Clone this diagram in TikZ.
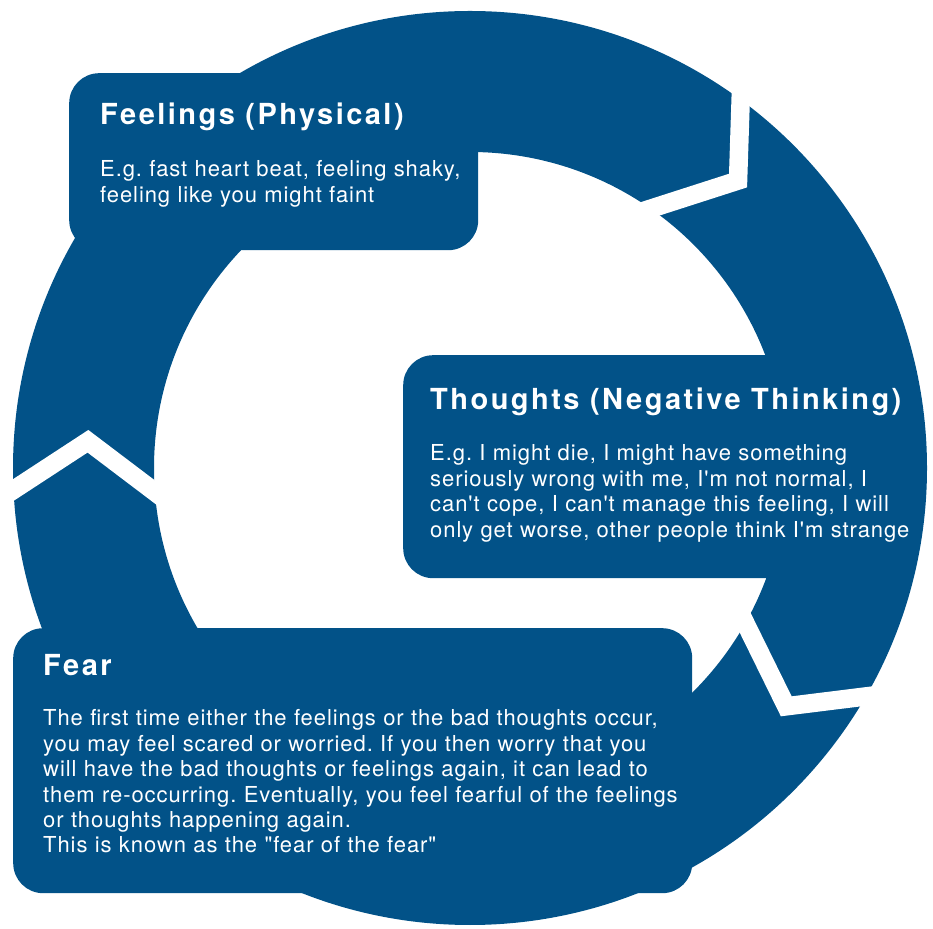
\documentclass[tikz,border=0pt]{standalone}
\usepackage{fontspec}
\usepackage{tikz}
\newfontfamily\boxfont[Ligatures=TeXOff,LetterSpace=4.2]{TeX Gyre Heros}
\newfontfamily\headfont[Ligatures=TeXOff,LetterSpace=8.5]{TeX Gyre Heros}
\definecolor{cycleblue}{RGB}{2,82,136}
\frenchspacing

\begin{document}
\begin{tikzpicture}[x=1pt,y=1pt,
    box/.style={fill=cycleblue,rounded corners=30pt,inner sep=0pt,anchor=north west},
    head/.style={text=white,anchor=base west,inner sep=0pt,font=\fontsize{29}{32}\selectfont\headfont\bfseries},
    body/.style={text=white,anchor=base west,inner sep=0pt,text width=700pt,align=left,font=\fontsize{22}{25.4}\selectfont\boxfont},
    gapline/.style={draw=white,line width=18.5pt}]
  \useasboundingbox (0,0) rectangle (933,928);
  \coordinate (ctr) at (470,460);
  \fill[cycleblue,even odd rule] (ctr) circle[radius=457] circle[radius=316];
  \foreach \ang/\rad/\dout/\din in {47/393/83/53,176/383/72/62,-37/396/92/48}
    \draw[gapline,shift={(ctr)},rotate=\ang] (\rad+95,\dout) -- (\rad,0) -- (\rad-95,\din);
  \node[box,minimum width=409,minimum height=177] (feelbox) at (69,855) {};
  \node[box,minimum width=502,minimum height=223] (thinkbox) at (403,573) {};
  \node[box,minimum width=679,minimum height=265] (fearbox) at (13,300) {};
  \node[head] (feelhead) at (100,803) {Feelings (Physical)};
  \node[body] (feeltext) at (100,751) {E.g. fast heart beat, feeling shaky,\\
    feeling like you might faint};
  \node[head] (thinkhead) at (430,518) {Thoughts (Negative Thinking)};
  \node[body] (thinktext) at (430,467) {E.g. I might die, I might have something\\
    seriously wrong with me, I'm not normal, I\\
    can't cope, I can't manage this feeling, I will\\
    only get worse, other people think I'm strange};
  \node[head] (fearhead) at (43,252) {Fear};
  \node[body] (feartext) at (43,202) {The first time either the feelings or the bad thoughts occur,\\
    you may feel scared or worried. If you then worry that you\\
    will have the bad thoughts or feelings again, it can lead to\\
    them re-occurring. Eventually, you feel fearful of the feelings\\
    or thoughts happening again.\\
    This is known as the "fear of the fear"};
\end{tikzpicture}
\end{document}
